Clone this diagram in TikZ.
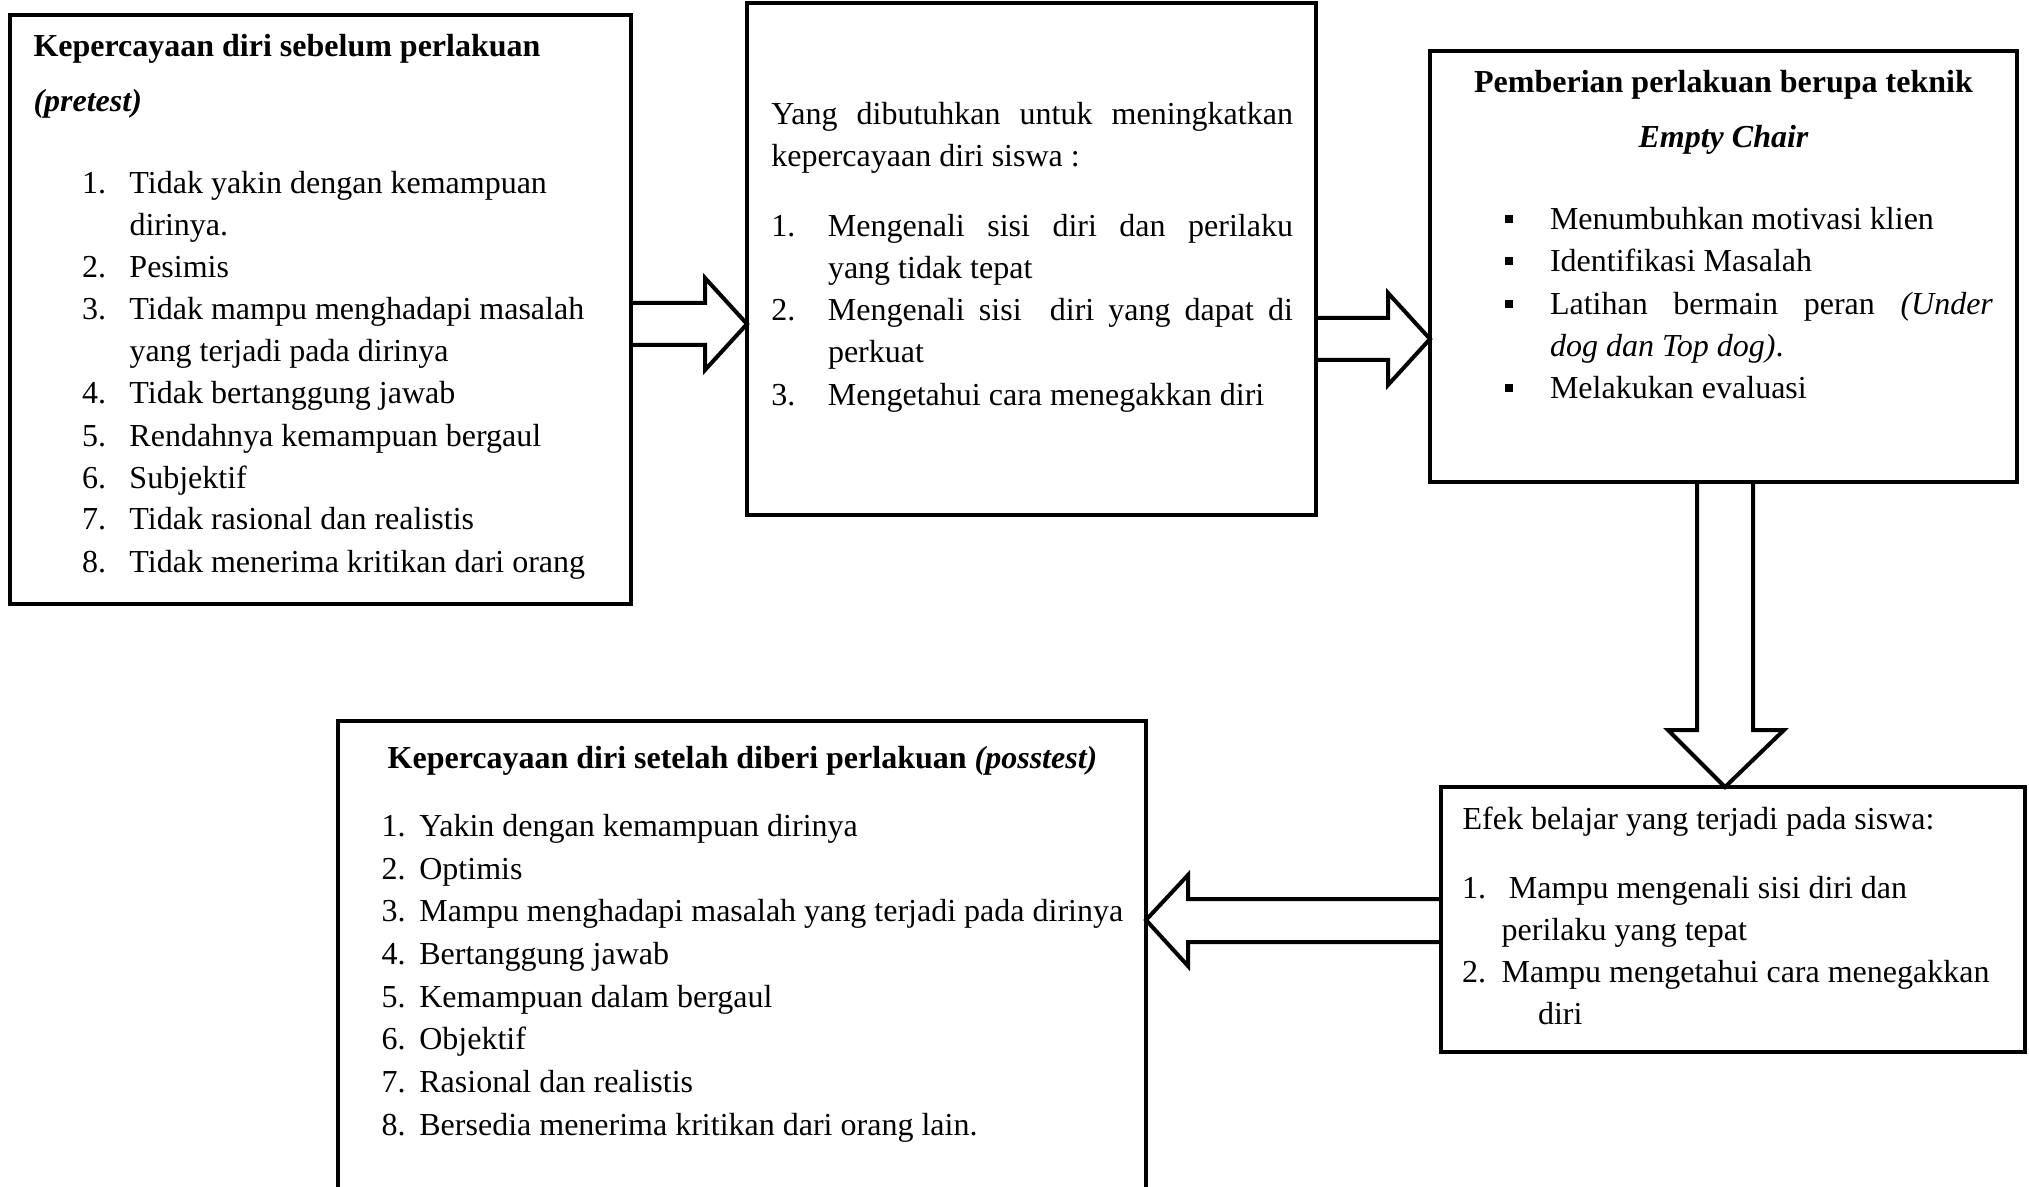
\documentclass[tikz,border=0pt]{standalone}
\usepackage{fontspec}
\setmainfont{Liberation Serif}
\usetikzlibrary{fit}
\newcommand\bodyfont{\fontsize{16pt}{19pt}\selectfont}
\newcommand\bsq{\rule[3.4pt]{3.9pt}{3.9pt}}
\begin{document}
\begin{tikzpicture}[x=0.5pt,y=-0.5pt,
  box/.style={draw, line width=2pt, inner sep=0pt, outer sep=0pt, rectangle},
  fat/.style={draw, line width=2pt, line join=miter},
  t/.style={anchor=base west, inner sep=0pt, outer sep=0pt, font=\bodyfont},
  tb/.style={anchor=base west, inner sep=0pt, outer sep=0pt, font=\bodyfont\bfseries},
  tc/.style={anchor=base, inner sep=0pt, outer sep=0pt, font=\bodyfont\bfseries}]
\useasboundingbox (0,0) rectangle (2029,1187);
\clip (0,0) rectangle (2029,1187);

% boxes
\node[box, fit={(10,15) (631,604)}] (b1) {};
\node[box, fit={(747,3) (1316,515)}] (b2) {};
\node[box, fit={(1430,51) (2017,482)}] (b3) {};
\node[box, fit={(1441,787) (2025,1052)}] (b4) {};
\node[box, fit={(338,721) (1146,1250)}] (b5) {};

% arrows
\draw[fat] (b1.east |- 0,303) -- (705,303) -- (705,278) -- (b2.west |- 0,324)
  -- (705,370) -- (705,345) -- (b1.east |- 0,345);
\draw[fat] (b2.east |- 0,318) -- (1388,318) -- (1388,293) -- (b3.west |- 0,339)
  -- (1388,385) -- (1388,360) -- (b2.east |- 0,360);
\draw[fat] (1697,0 |- b3.south) -- (1697,730) -- (1668,730) -- (1725,0 |- b4.north)
  -- (1784,730) -- (1753,730) -- (1753,0 |- b3.south);
\draw[fat] (b4.west |- 0,899) -- (1188,899) -- (1188,875) -- (b5.east |- 0,920)
  -- (1188,966) -- (1188,942) -- (b4.west |- 0,942);

% box 1 text
\node[tb] (h1a) at (33.5,57) {Kepercayaan diri sebelum perlakuan};
\node[tb] (h1b) at (33.5,111.5) {\itshape (pretest)};
\node[t] (p1) at (82,194) {\makebox[23.75pt][l]{1.}Tidak yakin dengan kemampuan};
\node[t] (p1b) at (129.5,236) {dirinya.};
\node[t] (p2) at (82,278) {\makebox[23.75pt][l]{2.}Pesimis};
\node[t] (p3) at (82,320) {\makebox[23.75pt][l]{3.}Tidak mampu menghadapi masalah};
\node[t] (p3b) at (129.5,362) {yang terjadi pada dirinya};
\node[t] (p4) at (82,404) {\makebox[23.75pt][l]{4.}Tidak bertanggung jawab};
\node[t] (p5) at (82,446) {\makebox[23.75pt][l]{5.}Rendahnya kemampuan bergaul};
\node[t] (p6) at (82,488) {\makebox[23.75pt][l]{6.}Subjektif};
\node[t] (p7) at (82,530) {\makebox[23.75pt][l]{7.}Tidak rasional dan realistis};
\node[t] (p8) at (82,572) {\makebox[23.75pt][l]{8.}Tidak menerima kritikan dari orang};

% box 2 text
\node[t] (n0a) at (771.4,125) {\makebox[260.8pt][s]{Yang dibutuhkan untuk meningkatkan}};
\node[t] (n0b) at (771.4,167) {kepercayaan diri siswa :};
\node[t] (n1) at (771.4,237) {\makebox[28.3pt][l]{1.}\makebox[232.5pt][s]{Mengenali sisi diri dan perilaku}};
\node[t] (n1b) at (828,279) {yang tidak tepat};
\node[t] (n2) at (771.4,321) {\makebox[28.3pt][l]{2.}\makebox[232.5pt][s]{Mengenali sisi \ diri yang dapat di}};
\node[t] (n2b) at (828,363) {perkuat};
\node[t] (n3) at (771.4,405.5) {\makebox[28.3pt][l]{3.}Mengetahui cara menegakkan diri};

% box 3 text
\node[tc] (h3a) at (1723.5,93) {Pemberian perlakuan berupa teknik};
\node[tc] (h3b) at (1723.5,147.7) {\itshape Empty Chair};
\node[t] (m1) at (1505,230) {\makebox[22.5pt][l]{\bsq}Menumbuhkan motivasi klien};
\node[t] (m2) at (1505,272) {\makebox[22.5pt][l]{\bsq}Identifikasi Masalah};
\node[t] (m3) at (1505,314.4) {\makebox[22.5pt][l]{\bsq}\makebox[221.5pt][s]{Latihan bermain peran \textit{(Under}}};
\node[t] (m3b) at (1550,356.7) {\textit{dog dan Top dog)}.};
\node[t] (m4) at (1505,399) {\makebox[22.5pt][l]{\bsq}Melakukan evaluasi};

% box 4 text
\node[t] (e0) at (1462.6,829.7) {Efek belajar yang terjadi pada siswa:};
\node[t] (e1) at (1462,898) {\makebox[23.5pt][l]{1.}Mampu mengenali sisi diri dan};
\node[t] (e1b) at (1501.7,940) {perilaku yang tepat};
\node[t] (e2) at (1462,982) {\makebox[19.85pt][l]{2.}Mampu mengetahui cara menegakkan};
\node[t] (e2b) at (1538,1024) {diri};

% box 5 text
\node[tc] (h5) at (742.5,768) {Kepercayaan diri setelah diberi perlakuan \textit{(posstest)}};
\node[t] (q1) at (381.5,836.7) {\makebox[18.95pt][l]{1.}Yakin dengan kemampuan dirinya};
\node[t] (q2) at (381.5,879.3) {\makebox[18.95pt][l]{2.}Optimis};
\node[t] (q3) at (381.5,921.9) {\makebox[18.95pt][l]{3.}Mampu menghadapi masalah yang terjadi pada dirinya};
\node[t] (q4) at (381.5,964.5) {\makebox[18.95pt][l]{4.}Bertanggung jawab};
\node[t] (q5) at (381.5,1007.1) {\makebox[18.95pt][l]{5.}Kemampuan dalam bergaul};
\node[t] (q6) at (381.5,1049.7) {\makebox[18.95pt][l]{6.}Objektif};
\node[t] (q7) at (381.5,1092.3) {\makebox[18.95pt][l]{7.}Rasional dan realistis};
\node[t] (q8) at (381.5,1135) {\makebox[18.95pt][l]{8.}Bersedia menerima kritikan dari orang lain.};
\end{tikzpicture}
\end{document}
